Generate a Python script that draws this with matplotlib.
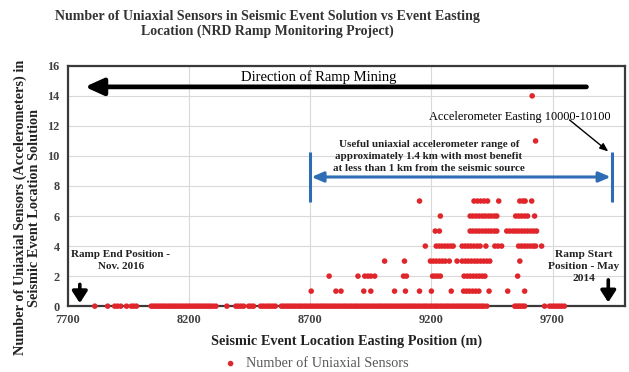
import matplotlib
matplotlib.use("Agg")
import matplotlib.pyplot as plt
import numpy as np

# Event easting positions (m) grouped by number of uniaxial sensors in the solution
east_0 = [7811, 7864, 7893, 7905, 7918, 7942, 7962, 7972, 7983,
          8044, 8052, 8061, 8070, 8079, 8088, 8097, 8106, 8116, 8125, 8134, 8143,
          8152, 8161, 8171, 8180, 8189, 8198, 8207, 8216, 8226, 8235, 8244, 8253,
          8262, 8272, 8281, 8290, 8300, 8311,
          8356, 8393, 8403, 8414, 8425, 8446, 8456, 8466,
          8495, 8505, 8516, 8526, 8536, 8546, 8556,
          8581, 8590, 8600, 8609, 8618, 8628, 8637, 8647, 8656, 8665, 8675, 8684,
          8694, 8703, 8712, 8722, 8731, 8741, 8750, 8759, 8769, 8778, 8788, 8797,
          8806, 8816, 8825, 8835, 8844, 8853, 8863, 8872, 8882, 8891, 8900, 8910,
          8919, 8929, 8938, 8947, 8957, 8966, 8976, 8985, 8994, 9004, 9013, 9023,
          9032, 9041, 9051, 9060, 9070, 9079, 9088, 9098, 9107, 9117, 9126, 9135,
          9145, 9154, 9164, 9173, 9182, 9192, 9201, 9211, 9220, 9229, 9239, 9248,
          9258, 9267, 9276, 9286, 9295, 9305, 9314, 9323, 9333, 9342, 9352, 9361,
          9370, 9380, 9389, 9399, 9408, 9417, 9429,
          9544, 9552, 9560, 9568, 9577, 9585,
          9667, 9688, 9698, 9708, 9718, 9728, 9738, 9749]
east_1 = [8704, 8806, 8827, 8921, 8950, 9048, 9093, 9151, 9200, 9282, 9333, 9345,
          9357, 9370, 9383, 9396, 9438, 9515, 9585]
east_2 = [8778, 8897, 8925, 8938, 8950, 8966, 9085, 9097, 9205, 9215, 9226, 9237,
          9335, 9348, 9360, 9373, 9386, 9398, 9410, 9421, 9556]
east_3 = [9007, 9089, 9196, 9208, 9220, 9233, 9245, 9257, 9274, 9306, 9327, 9340,
          9352, 9365, 9378, 9390, 9403, 9416, 9429, 9441, 9565]
east_4 = [9175, 9220, 9232, 9244, 9256, 9268, 9280, 9290, 9327, 9339, 9351, 9363,
          9376, 9389, 9401, 9425, 9462, 9475, 9490, 9560, 9572, 9584, 9596, 9608,
          9620, 9630, 9655]
east_5 = [9216, 9233, 9360, 9372, 9385, 9397, 9410, 9423, 9435, 9447, 9460, 9470,
          9511, 9523, 9536, 9548, 9560, 9573, 9585, 9597, 9610, 9622, 9634]
east_6 = [9237, 9360, 9372, 9385, 9397, 9410, 9422, 9435, 9447, 9460, 9470,
          9548, 9560, 9572, 9585, 9597, 9626]
east_7 = [9151, 9376, 9390, 9404, 9418, 9432, 9478, 9565, 9578, 9587, 9614]
east_11 = [9630]
east_14 = [9616]

groups = {0: east_0, 1: east_1, 2: east_2, 3: east_3, 4: east_4, 5: east_5,
          6: east_6, 7: east_7, 11: east_11, 14: east_14}

x_ticks = [7700, 8200, 8700, 9200, 9700]
y_ticks = [0, 2, 4, 6, 8, 10, 12, 14, 16]

xs = np.concatenate([np.asarray(v, float) for v in groups.values()])
ys = np.concatenate([np.full(len(v), k, float) for k, v in groups.items()])

SERIF = ["Liberation Serif", "DejaVu Serif"]
plt.rcParams["font.family"] = SERIF

fig = plt.figure(figsize=(6.29, 3.72), dpi=100)
ax = fig.add_axes([0.108, 0.177, 0.886, 0.646])

ax.set_xlim(7700, 10000)
ax.set_ylim(0, 16)
ax.set_xticks(x_ticks)
ax.set_yticks(y_ticks)
ax.grid(True, color="#d9d9d9", linewidth=0.8)
ax.set_axisbelow(True)
ax.tick_params(length=0, labelsize=8.8, labelcolor="#404040", pad=6)
for lab in ax.get_xticklabels() + ax.get_yticklabels():
    lab.set_fontweight("bold")
for sp in ax.spines.values():
    sp.set_color("#3a3a3a")
    sp.set_linewidth(1.6)

red = "#e0262b"
ax.scatter(xs, ys, s=16, color=red, edgecolors="none", zorder=3, clip_on=False,
           label="Number of Uniaxial Sensors")

# Direction of mining arrow
ax.annotate("", xy=(7770, 14.6), xytext=(9840, 14.6),
            arrowprops=dict(arrowstyle="-|>,head_length=1.1,head_width=0.5",
                            color="black", lw=3.4, shrinkA=0, shrinkB=0))
ax.text(8735, 15.25, "Direction of Ramp Mining", ha="center", va="center",
        fontsize=10.5, color="black")

# Accelerometer location
ax.text(9565, 12.6, "Accelerometer Easting 10000-10100", ha="center", va="center",
        fontsize=8.8, color="black")
ax.annotate("", xy=(9930, 10.3), xytext=(9770, 12.4),
            arrowprops=dict(arrowstyle="-|>,head_length=0.5,head_width=0.2",
                            color="black", lw=1.0, shrinkA=0, shrinkB=0))

# Useful range bracket
blue = "#2e6db4"
ax.plot([8700, 8700], [6.95, 10.25], color=blue, lw=2.2, solid_capstyle="butt")
ax.plot([9945, 9945], [6.95, 10.25], color=blue, lw=2.2, solid_capstyle="butt")
ax.annotate("", xy=(8705, 8.6), xytext=(9940, 8.6),
            arrowprops=dict(arrowstyle="<|-|>,head_length=0.7,head_width=0.3",
                            color=blue, lw=2.2, shrinkA=0, shrinkB=0))
ax.text(9190, 9.95,
        "Useful uniaxial accelerometer range of\n"
        "approximately 1.4 km with most benefit\n"
        "at less than 1 km from the seismic source",
        ha="center", va="center", fontsize=7.9, fontweight="bold",
        color="#222222", linespacing=1.4)

# Ramp end / start markers
ax.text(7918, 3.05, "Ramp End Position -\nNov. 2016", ha="center", va="center",
        fontsize=8, fontweight="bold", color="#222222", linespacing=1.4)
ax.annotate("", xy=(7749, 0.2), xytext=(7749, 1.45),
            arrowprops=dict(arrowstyle="-|>,head_length=0.7,head_width=0.45",
                            color="black", lw=2.6, shrinkA=0, shrinkB=0))
ax.text(9828, 2.65, "Ramp Start\nPosition - May\n2014", ha="center", va="center",
        fontsize=8.2, fontweight="bold", color="#222222", linespacing=1.4)
ax.annotate("", xy=(9930, 0.25), xytext=(9930, 1.75),
            arrowprops=dict(arrowstyle="-|>,head_length=0.7,head_width=0.45",
                            color="black", lw=2.6, shrinkA=0, shrinkB=0))

ax.set_xlabel("Seismic Event Location Easting Position (m)", fontsize=10.3,
              fontweight="bold", color="#222222", labelpad=6)
ax.set_ylabel("Number of Uniaxial Sensors (Accelerometers) in\n"
              "Seismic Event Location Solution", fontsize=10.3,
              fontweight="bold", color="#222222", linespacing=1.1)
ax.yaxis.set_label_coords(-0.048, 0.41)

fig.text(0.425, 0.935, "Number of Uniaxial Sensors in Seismic Event Solution vs Event Easting\n"
         "Location (NRD Ramp Monitoring Project)", ha="center", va="center",
         fontsize=10, fontweight="bold", color="#333333", linespacing=1.15)

leg = fig.legend(loc="center", bbox_to_anchor=(0.497, 0.022), frameon=False,
                 fontsize=10.3, handletextpad=0.1, markerscale=1.0, borderpad=0)
for t in leg.get_texts():
    t.set_color("#595959")

fig.savefig("out.png", dpi=100)
